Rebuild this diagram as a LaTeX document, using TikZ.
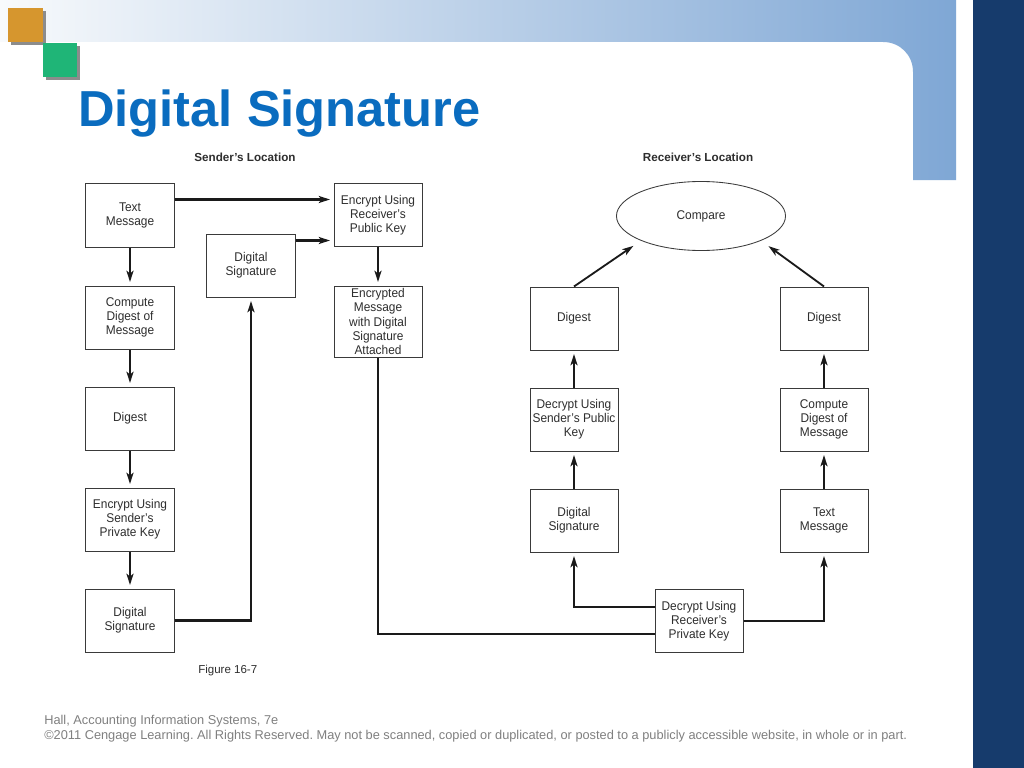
\documentclass[tikz,border=0pt]{standalone}
\usepackage{fontspec}
\setmainfont{Liberation Sans}
\newfontfamily\figfont[FakeStretch=0.94]{Liberation Sans}
\usepackage{xcolor}
\frenchspacing
\definecolor{linec}{HTML}{1A1A1A}
\definecolor{boxc}{HTML}{3A3A3A}
\definecolor{txtc}{HTML}{2E2E2E}
\definecolor{titlec}{HTML}{0A6CBF}
\definecolor{bandl}{HTML}{F8FAFC}
\definecolor{bandc}{HTML}{7FA7D5}
\definecolor{navyc}{HTML}{163B6C}
\definecolor{orangec}{HTML}{D6962E}
\definecolor{greenc}{HTML}{1FB577}
\definecolor{shadc}{HTML}{8C8C8C}
\definecolor{footc}{HTML}{808080}
\usetikzlibrary{arrows.meta,positioning,calc,shapes.geometric}
\tikzset{
  >={Stealth[length=8pt,width=5pt,inset=2pt]},
  blk/.style={draw=boxc,line width=0.7pt,fill=white,minimum width=2.2cm,minimum height=1.575cm,inner sep=1pt,align=center,text=txtc,font=\figfont\fontsize{9}{10}\selectfont},
  tallblk/.style={blk,minimum height=1.775cm},
  cmpell/.style={ellipse,draw=boxc,line width=0.6pt,minimum width=4.225cm,minimum height=1.725cm,inner sep=0pt,text=txtc,font=\figfont\fontsize{9}{10}\selectfont},
  ptr/.style={->,line width=1.5pt,draw=linec,shorten >=2.5pt},
  farptr/.style={ptr,line width=1.3pt,shorten >=6.5pt},
  wire/.style={line width=1.5pt,draw=linec},
  hdr/.style={font=\bfseries\fontsize{8.3}{10}\selectfont,text=txtc,anchor=base,inner sep=0pt},
  note/.style={font=\fontsize{8.2}{10}\selectfont,text=txtc,anchor=base west,inner sep=0pt},
  foot/.style={font=\fontsize{9.1}{11}\selectfont,text=footc,anchor=base west,inner sep=0pt},
  ttl/.style={font=\bfseries\fontsize{36}{42}\selectfont,text=titlec,anchor=base west,inner sep=0pt},
}
\begin{document}
\begin{tikzpicture}[x=0.025cm,y=-0.025cm]
  \fill[white] (0,0) rectangle (1024,768);
  \useasboundingbox (0,0) rectangle (1024,768);
  \shade[left color=bandl,right color=bandc] (0,0) -- (956,0) -- (956,180) -- (913,180) -- (913,72)
    .. controls (913,55) and (900,42) .. (883,42) -- (0,42) -- cycle;
  \fill[navyc] (973,0) rectangle (1024,768);
  \fill[shadc] (11,11) rectangle (46,45);
  \fill[orangec] (8,8) rectangle (43,42);
  \fill[shadc] (46,46) rectangle (80,80);
  \fill[greenc] (43,43) rectangle (77,77);
  \node[ttl] (title) at (78,127) {Digital Signature};

  \node[hdr] (sloc) at (245,162) {Sender’s Location};
  \node[hdr] (rloc) at (698,162) {Receiver’s Location};

  \node[blk] (tmS) at (130,215.5) {Text\\Message};
  \node[blk] (cdS) at (130,317.5) {Compute\\Digest of\\Message};
  \node[blk] (dgS) at (130,418.5) {Digest};
  \node[blk] (esS) at (130,519.5) {Encrypt Using\\Sender’s\\Private Key};
  \node[blk] (dsS) at (130,620.5) {Digital\\Signature};
  \node[blk] (dsM) at (251,265.5) {Digital\\Signature};
  \node[blk] (erK) at (378,215) {Encrypt Using\\Receiver’s\\Public Key};
  \node[tallblk] (emD) at (378,321.5) {Encrypted\\Message\\with Digital\\Signature\\Attached};

  \node[cmpell] (cmp) at (701,216) {Compare};
  \node[blk] (dgL) at (574,318.5) {Digest};
  \node[blk] (dpL) at (574,419.5) {Decrypt Using\\Sender’s Public\\Key};
  \node[blk] (dsL) at (574,520.5) {Digital\\Signature};
  \node[blk] (dgR) at (824,318.5) {Digest};
  \node[blk] (cdR) at (824,419.5) {Compute\\Digest of\\Message};
  \node[blk] (tmR) at (824,520.5) {Text\\Message};
  \node[blk] (drK) at (699,621) {Decrypt Using\\Receiver’s\\Private Key};

  \draw[ptr] (tmS) -- (cdS);
  \draw[ptr] (cdS) -- (dgS);
  \draw[ptr] (dgS) -- (esS);
  \draw[ptr] (esS) -- (dsS);
  \draw[ptr] (dsS.east) -| (dsM.south);
  \draw[ptr] ($(tmS.east)+(0,-16)$) coordinate (t1) -- (t1 -| erK.west);
  \draw[ptr] ($(dsM.east)+(0,-25)$) coordinate (t2) -- (t2 -| erK.west);
  \draw[ptr] (erK) -- (emD);
  \draw[wire] (emD.south) |- ($(drK.west)+(0,13)$);

  \draw[ptr] ($(drK.west)+(0,-14)$) -| (dsL.south);
  \draw[ptr] (drK.east) -| (tmR.south);
  \draw[ptr] (dsL) -- (dpL);
  \draw[ptr] (dpL) -- (dgL);
  \draw[ptr] (tmR) -- (cdR);
  \draw[ptr] (cdR) -- (dgR);
  \draw[farptr] (dgL.north) -- (cmp.south west);
  \draw[farptr] (dgR.north) -- (cmp.south east);

  \node[note] (fig) at (198,673) {Figure 16-7};
  \node[foot] (src) at (44,724) {Hall, Accounting Information Systems, 7e};
  \node[foot] (copy) at (44,739) {©2011 Cengage Learning. All Rights Reserved. May not be scanned, copied or duplicated, or posted to a publicly accessible website, in whole or in part.};
\end{tikzpicture}
\end{document}
